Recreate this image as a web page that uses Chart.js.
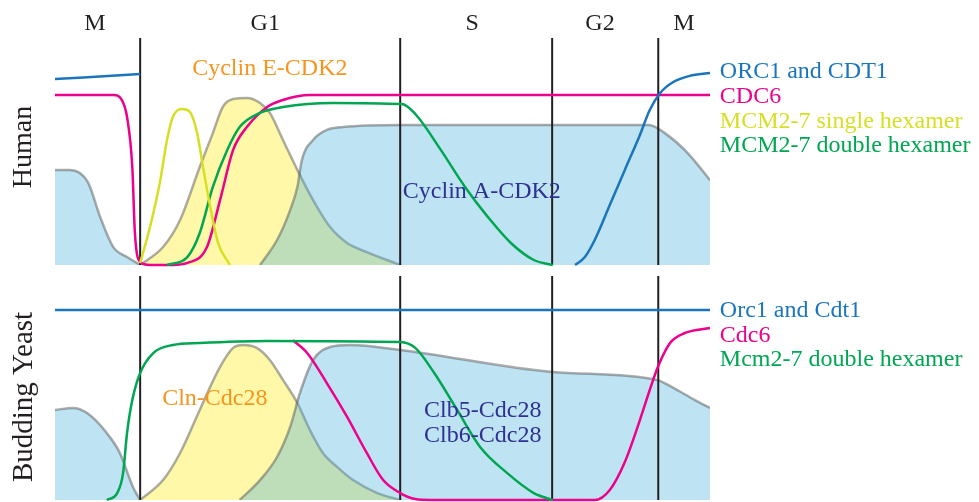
<!DOCTYPE html>
<html>
<head>
<meta charset="utf-8">
<script src="https://cdn.jsdelivr.net/npm/chart.js@4.4.1/dist/chart.umd.min.js"></script>
<style>
  html, body { margin: 0; padding: 0; background: #fff; }
  #wrap { position: relative; width: 979px; height: 502px; }
  canvas { position: absolute; left: 0; }
  #human { top: 0; }
  #yeast { top: 270px; }
</style>
</head>
<body>
<div id="wrap">
  <canvas id="human" width="979" height="270"></canvas>
  <canvas id="yeast" width="979" height="232"></canvas>
</div>
<script>
(function() {
    'use strict';

    // cell cycle progress 0..100, relative level 0..100
    const phaseNames = ['M', 'G1', 'S', 'G2', 'M'];
    const phaseBounds = [13.0, 52.7, 75.9, 92.1];
    const phaseLabelPos = [6.1, 32.1, 63.7, 83.2, 96.0];

    // Human
    const hMitoticX = [0, 2.3, 5.0, 6.9, 8.9, 11.0, 13.0];
    const hMitoticY = [41.9, 41.9, 36.6, 21.1, 7.9, 3.5, 0];
    const hCycEX = [13.0, 16.5, 19.1, 22.1, 24.1, 25.6, 27.2, 29.3, 31.3, 32.8, 34.8, 37.0, 39.4, 42.0, 44.6, 47.6, 52.7];
    const hCycEY = [0, 7.9, 19.8, 43.2, 58.1, 69.6, 73.1, 73.6, 71.4, 67.0, 55.1, 41.9, 28.6, 16.7, 9.7, 5.7, 0];
    const hCycAX = [31.3, 33.9, 35.9, 37.0, 37.7, 39.4, 41.5, 44.0, 52.7, 90.7, 93.1, 96.6, 100];
    const hCycAY = [0, 11.0, 24.2, 34.4, 46.3, 55.1, 59.5, 60.8, 61.7, 61.7, 58.1, 49.3, 37.4];
    const hOrcLeftX = [0, 13.0];
    const hOrcLeftY = [81.9, 84.1];
    const hOrcRightX = [79.4, 80.9, 82.4, 84.7, 87.0, 89.3, 90.8, 92.4, 94.4, 96.9, 100];
    const hOrcRightY = [0, 3.5, 11.0, 26.4, 41.9, 57.3, 68.3, 75.8, 80.6, 83.3, 84.6];
    const hCdc6X = [0, 8.9, 10.2, 11.0, 11.8, 12.2, 13.0, 14.5, 18.0, 20.2, 23.2, 25.2, 27.2, 29.3, 32.4, 34.8, 38.9, 100];
    const hCdc6Y = [74.9, 74.9, 72.7, 65.2, 43.2, 14.1, 1.3, 0, 0, 0.9, 7.9, 28.6, 50.7, 60.8, 69.6, 72.7, 74.9, 74.9];
    const hMcmSingleX = [13.0, 14.5, 16.0, 17.1, 18.0, 19.4, 20.6, 21.7, 22.6, 23.7, 24.9, 26.7];
    const hMcmSingleY = [0.9, 16.7, 36.1, 55.1, 65.2, 68.7, 67.4, 58.1, 43.2, 25.6, 9.7, 0];
    const hMcmDoubleX = [17.1, 20.2, 22.1, 24.1, 26.3, 28.2, 31.3, 34.8, 42.4, 52.7, 53.4, 55.4, 58.9, 62.6, 66.1, 69.6, 73.1, 76.0];
    const hMcmDoubleY = [0, 3.5, 14.1, 34.4, 50.7, 60.8, 67.0, 69.6, 71.4, 70.9, 70.5, 65.2, 50.7, 34.4, 21.1, 9.7, 2.2, 0];

    // Budding yeast
    const yMitoticX = [0, 2.7, 4.9, 7.9, 9.9, 11.9, 13.0];
    const yMitoticY = [40.2, 41.1, 38.8, 29.9, 21.0, 5.8, 0];
    const yClnX = [13.0, 16.5, 19.1, 22.1, 25.2, 27.2, 28.7, 30.8, 32.8, 34.8, 37.0, 38.9, 40.9, 43.1, 45.5, 49.2, 52.7];
    const yClnY = [0, 8.9, 21.0, 40.2, 59.4, 67.9, 69.2, 67.9, 62.5, 53.6, 43.3, 31.3, 21.0, 14.7, 8.9, 3.1, 0];
    const yClbX = [28.2, 31.3, 33.9, 35.9, 37.4, 39.4, 42.0, 45.0, 52.7, 76.0, 91.9, 94.2, 97.7, 100];
    const yClbY = [0, 8.9, 19.2, 32.6, 47.8, 62.5, 68.3, 69.2, 67.0, 57.1, 53.6, 50.4, 44.6, 41.1];
    const yOrcX = [0, 100];
    const yOrcY = [84.8, 84.8];
    const yCdc6X = [36.3, 38.5, 41.5, 44.6, 47.6, 50.1, 52.7, 55.0, 57.3, 82.4, 84.7, 87.0, 89.3, 90.8, 92.1, 93.9, 96.2, 100];
    const yCdc6Y = [71.4, 65.6, 52.2, 37.1, 21.0, 8.9, 3.1, 0.4, 0, 0, 4.5, 17.0, 35.7, 49.1, 59.8, 70.1, 74.6, 76.8];
    const yMcmX = [7.9, 9.5, 10.4, 11.0, 11.8, 13.0, 15.0, 18.0, 22.1, 32.4, 52.7, 55.0, 57.9, 61.4, 64.9, 69.0, 73.1, 76.0];
    const yMcmY = [0, 3.1, 12.1, 29.9, 44.6, 56.7, 65.6, 69.2, 70.1, 71.0, 70.5, 67.9, 56.7, 40.2, 23.7, 12.1, 3.1, 0];

    const COLORS = {
        orc: '#1b75bc',
        cdc6: '#ec008c',
        single: '#d7df23',
        double: '#00a651',
        cycE: '#f7941d',
        cycA: '#2e3192',
        blueFill: 'rgba(69, 175, 221, 0.35)',
        yellowFill: '#fff8a8',
        outline: 'rgba(90, 90, 90, 0.5)',
        phase: '#231f20',
    };
    const FONT = '"Liberation Serif", "Times New Roman", serif';

    function pts(xs, ys) {
        return xs.map((x, i) => ({ x, y: ys[i] }));
    }

    // yellow first, translucent blue on top -> green overlap
    function area(xs, ys, fillColor, order) {
        return {
            data: pts(xs, ys),
            fill: 'origin',
            backgroundColor: fillColor,
            borderColor: COLORS.outline,
            borderWidth: 2.5,
            cubicInterpolationMode: 'monotone',
            order,
        };
    }

    function curve(xs, ys, color) {
        return {
            data: pts(xs, ys),
            fill: false,
            borderColor: color,
            borderWidth: 2.5,
            cubicInterpolationMode: 'monotone',
            clip: 4,
            order: 1,
        };
    }

    function phaseLines() {
        return phaseBounds.map(b => ({
            data: [{ x: b, y: 0 }, { x: b, y: 100 }],
            fill: false,
            borderColor: COLORS.phase,
            borderWidth: 2,
            tension: 0,
            clip: 2,
            order: 2,
        }));
    }

    const textPlugin = {
        id: 'texts',
        afterDraw(chart, args, opts) {
            const ctx = chart.ctx;
            const xs = chart.scales.x;
            const ys = chart.scales.y;
            const area = chart.chartArea;
            ctx.save();
            ctx.textBaseline = 'alphabetic';
            if (opts.phases) {
                ctx.font = '24px ' + FONT;
                ctx.fillStyle = COLORS.phase;
                ctx.textAlign = 'center';
                phaseNames.forEach((name, i) => {
                    ctx.fillText(name, xs.getPixelForValue(phaseLabelPos[i]), area.top - 8);
                });
            }
            (opts.items || []).forEach(t => {
                ctx.font = '24px ' + FONT;
                ctx.fillStyle = t.color;
                ctx.textAlign = t.align || 'left';
                ctx.fillText(t.text, xs.getPixelForValue(t.x), ys.getPixelForValue(t.y));
            });
            if (opts.side) {
                ctx.font = opts.side.size + 'px ' + FONT;
                ctx.fillStyle = COLORS.phase;
                ctx.textAlign = 'center';
                ctx.textBaseline = 'middle';
                ctx.translate(24, ys.getPixelForValue(opts.side.y));
                ctx.rotate(-Math.PI / 2);
                ctx.fillText(opts.side.text, 0, 0);
            }
            ctx.restore();
        },
    };

    function makePanel(id, datasets, padding, texts) {
        const canvas = document.getElementById(id);
        return new Chart(canvas, {
            type: 'line',
            data: { datasets },
            options: {
                responsive: false,
                animation: false,
                layout: { padding },
                elements: { point: { radius: 0 } },
                scales: {
                    x: { type: 'linear', min: 0, max: 100, display: false },
                    y: { min: 0, max: 100, display: false },
                },
                plugins: {
                    legend: { display: false },
                    tooltip: { enabled: false },
                    texts,
                },
            },
            plugins: [textPlugin],
        });
    }

    makePanel('human', [
        area(hMitoticX, hMitoticY, COLORS.blueFill, 3),
        area(hCycAX, hCycAY, COLORS.blueFill, 3),
        area(hCycEX, hCycEY, COLORS.yellowFill, 4),
        ...phaseLines(),
        curve(hOrcLeftX, hOrcLeftY, COLORS.orc),
        curve(hOrcRightX, hOrcRightY, COLORS.orc),
        curve(hMcmSingleX, hMcmSingleY, COLORS.single),
        curve(hMcmDoubleX, hMcmDoubleY, COLORS.double),
        curve(hCdc6X, hCdc6Y, COLORS.cdc6),
    ], { top: 38, bottom: 5, left: 55, right: 269 }, {
        phases: true,
        side: { text: 'Human', y: 52, size: 28 },
        items: [
            { text: 'Cyclin E-CDK2', x: 32.8, y: 83.7, color: COLORS.cycE, align: 'center' },
            { text: 'Cyclin A-CDK2', x: 53.1, y: 29.5, color: COLORS.cycA },
            { text: 'ORC1 and CDT1', x: 101.5, y: 82.4, color: COLORS.orc },
            { text: 'CDC6', x: 101.5, y: 71.4, color: COLORS.cdc6 },
            { text: 'MCM2-7 single hexamer', x: 101.5, y: 60.4, color: COLORS.single },
            { text: 'MCM2-7 double hexamer', x: 101.5, y: 49.8, color: COLORS.double },
        ],
    });

    makePanel('yeast', [
        area(yMitoticX, yMitoticY, COLORS.blueFill, 3),
        area(yClbX, yClbY, COLORS.blueFill, 3),
        area(yClnX, yClnY, COLORS.yellowFill, 4),
        ...phaseLines(),
        curve(yOrcX, yOrcY, COLORS.orc),
        curve(yMcmX, yMcmY, COLORS.double),
        curve(yCdc6X, yCdc6Y, COLORS.cdc6),
    ], { top: 6, bottom: 2, left: 55, right: 269 }, {
        side: { text: 'Budding Yeast', y: 46, size: 29 },
        items: [
            { text: 'Cln-Cdc28', x: 24.4, y: 42.4, color: COLORS.cycE, align: 'center' },
            { text: 'Clb5-Cdc28', x: 65.3, y: 37.1, color: COLORS.cycA, align: 'center' },
            { text: 'Clb6-Cdc28', x: 65.3, y: 25.9, color: COLORS.cycA, align: 'center' },
            { text: 'Orc1 and Cdt1', x: 101.5, y: 81.7, color: COLORS.orc },
            { text: 'Cdc6', x: 101.5, y: 70.5, color: COLORS.cdc6 },
            { text: 'Mcm2-7 double hexamer', x: 101.5, y: 59.8, color: COLORS.double },
        ],
    });
})();
</script>
</body>
</html>
